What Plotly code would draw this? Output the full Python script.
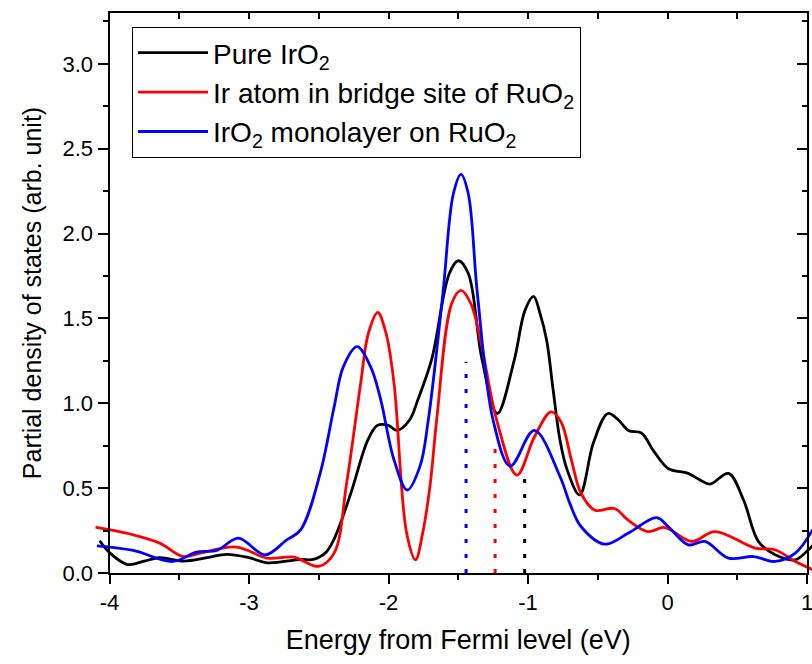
import plotly.graph_objects as go

# ---- data ----
black_E = [-4.07, -4.0, -3.87, -3.75, -3.64, -3.47, -3.3, -3.16, -3.0, -2.87, -2.63, -2.54, -2.45, -2.39,
           -2.27, -2.15, -2.08, -2.0, -1.94, -1.85, -1.79, -1.69, -1.564, -1.50, -1.428, -1.33, -1.22,
           -1.10, -1.021, -0.96, -0.914, -0.866, -0.82, -0.77, -0.72, -0.63, -0.53, -0.427, -0.35, -0.28,
           -0.187, -0.1, 0.005, 0.148, 0.23, 0.305, 0.437, 0.545, 0.652, 0.772, 0.916, 1.01, 1.05]
black_D = [0.19, 0.12, 0.05, 0.07, 0.09, 0.07, 0.09, 0.11, 0.09, 0.06, 0.08, 0.08, 0.12, 0.20,
           0.47, 0.78, 0.87, 0.87, 0.84, 0.90, 1.02, 1.26, 1.765, 1.84, 1.765, 1.26, 0.94,
           1.25, 1.549, 1.63, 1.53, 1.37, 1.08, 0.78, 0.61, 0.46, 0.77, 0.94, 0.90, 0.84,
           0.825, 0.72, 0.616, 0.587, 0.55, 0.524, 0.587, 0.43, 0.186, 0.107, 0.078, 0.137, 0.17]

red_E = [-4.10, -3.83, -3.64, -3.47, -3.35, -3.09, -2.87, -2.68, -2.50, -2.39, -2.30, -2.20, -2.145,
         -2.077, -2.017, -1.96, -1.87, -1.806, -1.755, -1.70, -1.655, -1.547, -1.48, -1.41, -1.34,
         -1.224, -1.08, -0.955, -0.835, -0.763, -0.69, -0.62, -0.52, -0.38, -0.28, -0.14, -0.02,
         0.173, 0.34, 0.628, 0.77, 0.916, 1.04]
red_D = [0.27, 0.225, 0.176, 0.097, 0.117, 0.153, 0.088, 0.094, 0.039, 0.117, 0.53, 1.115, 1.41,
         1.535, 1.41, 1.115, 0.235, 0.078, 0.235, 0.53, 0.90, 1.588, 1.666, 1.588, 1.37,
         0.90, 0.577, 0.80, 0.95, 0.89, 0.67, 0.47, 0.37, 0.38, 0.31, 0.244, 0.268,
         0.186, 0.244, 0.147, 0.137, 0.068, 0.02]

blue_E = [-4.09, -3.83, -3.545, -3.376, -3.23, -3.077, -2.885, -2.73, -2.63, -2.49, -2.39, -2.324,
          -2.225, -2.128, -2.06, -1.96, -1.866, -1.774, -1.715, -1.61, -1.535, -1.48, -1.428, -1.363,
          -1.25, -1.127, -0.955, -0.77, -0.70, -0.62, -0.45, -0.28, -0.079, 0.005, 0.149, 0.268,
          0.437, 0.617, 0.772, 0.916, 1.04]
blue_D = [0.16, 0.133, 0.068, 0.123, 0.133, 0.205, 0.107, 0.195, 0.254, 0.587, 0.978, 1.215,
          1.334, 1.215, 1.036, 0.665, 0.489, 0.63, 0.90, 1.647, 2.235, 2.349, 2.235, 1.647,
          0.90, 0.63, 0.84, 0.567, 0.41, 0.274, 0.17, 0.235, 0.326, 0.274, 0.166, 0.186,
          0.088, 0.097, 0.068, 0.117, 0.254]

names = ["Pure IrO<sub>2</sub>", "Ir atom in bridge site of RuO<sub>2</sub>",
         "IrO<sub>2</sub> monolayer on RuO<sub>2</sub>"]
colors = ["#000000", "#ff0000", "#0000ff"]

# vertical dotted markers (d-band centres)
center_E = [-1.024, -1.236, -1.444]
center_top = [0.577, 0.765, 1.245]

x_ticks = [-4, -3, -2, -1, 0, 1]
y_ticks = [0.0, 0.5, 1.0, 1.5, 2.0, 2.5, 3.0]
x_range = [-4, 1]
y_range = [0, 3.3]

FONT = "Arial, Liberation Sans, sans-serif"

# geometry (pixels) of the framed axes inside the 812x664 page
W, H = 812, 664
ML, MR, MT, MB = 94, 0, 13, 90.7      # data area slightly wider than the frame (curves overhang)
FRAME_L, FRAME_R = 109.5, 807.0
plot_w = W - ML - MR
px_per_unit = (FRAME_R - FRAME_L) / (x_range[1] - x_range[0])
data_range = [x_range[0] - (FRAME_L - ML) / px_per_unit, x_range[1] + (W - MR - FRAME_R) / px_per_unit]
frame_dom = [(FRAME_L - ML) / plot_w, (FRAME_R - ML) / plot_w]

fig = go.Figure()
for i, (E, D) in enumerate([(black_E, black_D), (red_E, red_D), (blue_E, blue_D)]):
    fig.add_trace(go.Scatter(x=E, y=D, mode="lines", name=names[i], legendgroup=str(i),
                             line=dict(color=colors[i], width=2.8, shape="spline", smoothing=1.0)))

for i in range(3):
    fig.add_trace(go.Scatter(x=[center_E[i], center_E[i]], y=[0, center_top[i]], mode="lines",
                             showlegend=False, hoverinfo="skip",
                             line=dict(color=colors[i], width=3, dash="4px,11px")))

for xa, ya in [("x2", "y"), ("x3", "y"), ("x3", "y2")]:
    fig.add_trace(go.Scatter(x=[None], y=[None], xaxis=xa, yaxis=ya, showlegend=False, hoverinfo="skip"))

common = dict(showline=True, linecolor="black", linewidth=2, showgrid=False, zeroline=False,
              tickcolor="black", tickwidth=2, automargin=False)

fig.update_layout(
    width=W, height=H,
    margin=dict(l=ML, r=MR, t=MT, b=MB, autoexpand=False),
    plot_bgcolor="rgba(0,0,0,0)", paper_bgcolor="white",
    font=dict(family=FONT, color="black"),
    # invisible data axis (wider than the frame)
    xaxis=dict(domain=[0, 1], range=data_range, visible=False, showgrid=False, zeroline=False,
               anchor="y", fixedrange=True),
    # visible bottom axis
    xaxis3=dict(domain=frame_dom, range=x_range, anchor="y", side="bottom",
                tickvals=x_ticks, ticktext=[str(v) for v in x_ticks],
                ticks="outside", ticklen=9, ticklabeloverflow="allow",
                minor=dict(dtick=0.5, ticks="outside", ticklen=5, tickwidth=2, tickcolor="black"),
                tickfont=dict(size=22, family=FONT), title=dict(text="Energy from Fermi level (eV)",
                font=dict(size=27, family=FONT), standoff=16), **common),
    # top mirror axis
    xaxis2=dict(domain=frame_dom, range=x_range, side="top", anchor="y", tickvals=x_ticks,
                showticklabels=False, ticks="inside", ticklen=6,
                minor=dict(dtick=0.5, ticks="inside", ticklen=6, tickwidth=2, tickcolor="black"),
                **common),
    yaxis=dict(range=y_range, anchor="x3", tickvals=y_ticks, ticktext=["%.1f" % v for v in y_ticks],
               ticks="outside", ticklen=10,
               minor=dict(dtick=0.25, ticks="outside", ticklen=5, tickwidth=2, tickcolor="black"),
               tickfont=dict(size=22, family=FONT),
               title=dict(text="Partial density of states (arb. unit)", font=dict(size=25, family=FONT),
                          standoff=14), **common),
    yaxis2=dict(range=y_range, overlaying="y", side="right", anchor="x3", tickvals=y_ticks,
                showticklabels=False, ticks="inside", ticklen=10,
                minor=dict(dtick=0.25, ticks="inside", ticklen=5, tickwidth=2, tickcolor="black"),
                **common),
    legend=dict(x=(132 - ML) / plot_w, y=0.975, xanchor="left", yanchor="top", bgcolor="white",
                bordercolor="black", borderwidth=1, font=dict(size=28, family=FONT),
                tracegroupgap=0, itemwidth=70),
    showlegend=True,
)

fig.write_html("out.html", config={"displayModeBar": False},
               post_script="document.body.style.margin='0px';document.body.style.padding='0px';")
